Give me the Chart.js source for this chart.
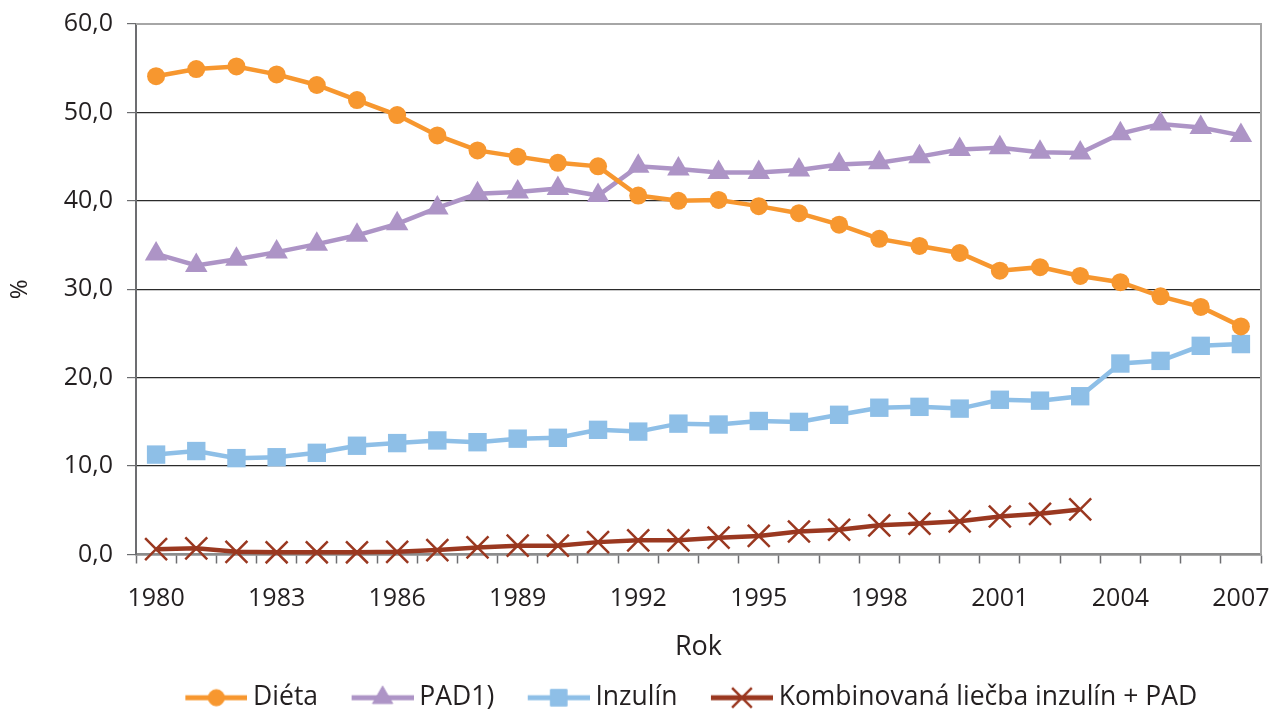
<!DOCTYPE html>
<html>
<head>
<meta charset="utf-8">
<script src="https://cdn.jsdelivr.net/npm/chart.js@4"></script>
<style>
  html, body { margin: 0; padding: 0; background: #fff; }
  #wrap { width: 1274px; height: 711px; }
</style>
</head>
<body>
<div id="wrap"><canvas id="chart" width="1274" height="711"></canvas></div>
<script>
// Data
var years = ['1980','1981','1982','1983','1984','1985','1986','1987','1988','1989',
  '1990','1991','1992','1993','1994','1995','1996','1997','1998','1999',
  '2000','2001','2002','2003','2004','2005','2006','2007'];
var dieta = [54.1, 54.9, 55.2, 54.3, 53.1, 51.4, 49.7, 47.4, 45.7, 45.0,
  44.3, 43.9, 40.6, 40.0, 40.1, 39.4, 38.6, 37.3, 35.7, 34.9,
  34.1, 32.1, 32.5, 31.5, 30.8, 29.2, 28.0, 25.8];
var pad = [34.0, 32.7, 33.4, 34.2, 35.1, 36.1, 37.4, 39.2, 40.8, 41.0,
  41.4, 40.6, 43.9, 43.6, 43.2, 43.2, 43.5, 44.1, 44.3, 45.0,
  45.8, 46.0, 45.5, 45.4, 47.6, 48.7, 48.3, 47.4];
var inzulin = [11.3, 11.7, 10.9, 11.0, 11.5, 12.3, 12.6, 12.9, 12.7, 13.1,
  13.2, 14.1, 13.9, 14.8, 14.7, 15.1, 15.0, 15.8, 16.6, 16.7,
  16.5, 17.5, 17.4, 17.9, 21.6, 21.9, 23.6, 23.8];
var kombinovana = [0.6, 0.7, 0.3, 0.25, 0.25, 0.25, 0.3, 0.5, 0.8, 1.0,
  1.0, 1.4, 1.6, 1.6, 1.9, 2.1, 2.6, 2.8, 3.3, 3.5,
  3.75, 4.3, 4.6, 5.1, null, null, null, null];
var yTicks = [0, 10, 20, 30, 40, 50, 60];

var FONT = '"Open Sans", "DejaVu Sans", sans-serif';
var TEXT = '#231f20';

var series = [
  { label: 'Diéta', data: dieta, color: '#f7972f', style: 'circle', radius: 9, width: 0 },
  { label: 'PAD1)', data: pad, color: '#ad94c6', style: 'triangle', radius: 13, width: 0 },
  { label: 'Inzulín', data: inzulin, color: '#8ebfe7', style: 'rect', radius: 13, width: 0 },
  { label: 'Kombinovaná liečba inzulín + PAD', data: kombinovana, color: '#9a3820', style: 'crossRot', radius: 15.5, width: 2.5 }
];

// legend icon: blank margin on the left, then a line with the marker in the middle
var BOX = 78, ICON_W = 93;
function makeIcon(s) {
  var c = document.createElement('canvas');
  c.width = ICON_W; c.height = 28;
  var g = c.getContext('2d');
  var x0 = ICON_W - 62;
  g.strokeStyle = s.color; g.fillStyle = s.color; g.lineWidth = 5;
  g.beginPath(); g.moveTo(x0, 14); g.lineTo(ICON_W, 14); g.stroke();
  g.lineWidth = s.width || 1;
  Chart.helpers.drawPoint(g, {
    pointStyle: s.style, radius: s.radius * 0.9, borderWidth: s.width || 0.01
  }, x0 + 31, 14);
  return c;
}

var frame = {
  id: 'frame',
  afterLayout: function(chart) {
    // legend sits a bit right of centre in the original
    chart.legend.left += 46;
    chart.legend.right += 46;
  },
  afterDatasetsDraw: function(chart) {
    var a = chart.chartArea, ctx = chart.ctx;
    ctx.save();
    ctx.strokeStyle = '#a6a6a6';
    ctx.lineWidth = 2;
    ctx.beginPath();
    ctx.moveTo(a.left, a.top);
    ctx.lineTo(a.right, a.top);
    ctx.lineTo(a.right, a.bottom);
    ctx.stroke();
    ctx.restore();
  }
};

var ctx = document.getElementById('chart').getContext('2d');
var datasets = series.map(function(s) {
  return {
    label: s.label,
    data: s.data,
    borderColor: s.color,
    backgroundColor: s.color,
    borderWidth: 4.5,
    pointStyle: s.style,
    pointRadius: s.radius,
    pointHoverRadius: s.radius,
    pointBorderWidth: s.width,
    pointBorderColor: s.color,
    pointBackgroundColor: s.color,
    tension: 0,
    spanGaps: false,
    clip: false
  };
});

var icons = series.map(makeIcon);

var myChart = new Chart(ctx, {
  type: 'line',
  data: { labels: years, datasets: datasets },
  plugins: [frame],
  options: {
    responsive: false,
    animation: false,
    layout: { autoPadding: false, padding: { top: 24, right: 13, left: 6, bottom: -10 } },
    scales: {
      x: {
        offset: true,
        grid: {
          offset: true,
          drawOnChartArea: false,
          drawTicks: true,
          tickLength: 9,
          tickColor: '#6d6e71',
          tickWidth: 1.5
        },
        border: { color: '#8c8c8c', width: 2.5 },
        ticks: {
          autoSkip: false,
          maxRotation: 0,
          padding: 20,
          color: TEXT,
          font: { family: FONT, size: 25 },
          callback: function(v, i) { return i % 3 === 0 ? years[i] : ''; }
        },
        title: {
          display: true,
          text: 'Rok',
          color: TEXT,
          font: { family: FONT, size: 27 },
          padding: { top: 0, bottom: 11 }
        },
        afterFit: function(scale) {
          scale.height = 120;
          scale.paddingLeft = 0;
          scale.paddingRight = 0;
        }
      },
      y: {
        min: 0,
        max: 60,
        afterBuildTicks: function(scale) {
          scale.ticks = yTicks.map(function(v) { return { value: v }; });
        },
        grid: {
          color: function(c) { return c.tick && c.tick.value === 60 ? 'rgba(0,0,0,0)' : '#2b2b2b'; },
          lineWidth: 1.2,
          tickLength: 9,
          tickColor: '#6d6e71',
          drawTicks: true
        },
        border: { color: '#6d6e71', width: 2 },
        ticks: {
          padding: 14,
          color: TEXT,
          font: { family: FONT, size: 25 },
          callback: function(v) { return v.toFixed(1).replace('.', ','); }
        },
        title: {
          display: true,
          text: '%',
          color: TEXT,
          font: { family: FONT, size: 24 },
          padding: { top: 0, bottom: 10 }
        },
        afterFit: function(scale) {
          scale.width = 130;
          scale.paddingTop = 0;
          scale.paddingBottom = 0;
        }
      }
    },
    plugins: {
      legend: {
        position: 'bottom',
        labels: {
          usePointStyle: true,
          pointStyleWidth: BOX,
          padding: 10,
          color: TEXT,
          font: { family: FONT, size: 26.5 },
          generateLabels: function(chart) {
            return series.map(function(s, i) {
              return {
                text: s.label,
                fillStyle: s.color,
                strokeStyle: s.color,
                pointStyle: icons[i],
                datasetIndex: i,
                hidden: false,
                fontColor: TEXT
              };
            });
          }
        }
      },
      tooltip: { enabled: false }
    }
  }
});
</script>
</body>
</html>
